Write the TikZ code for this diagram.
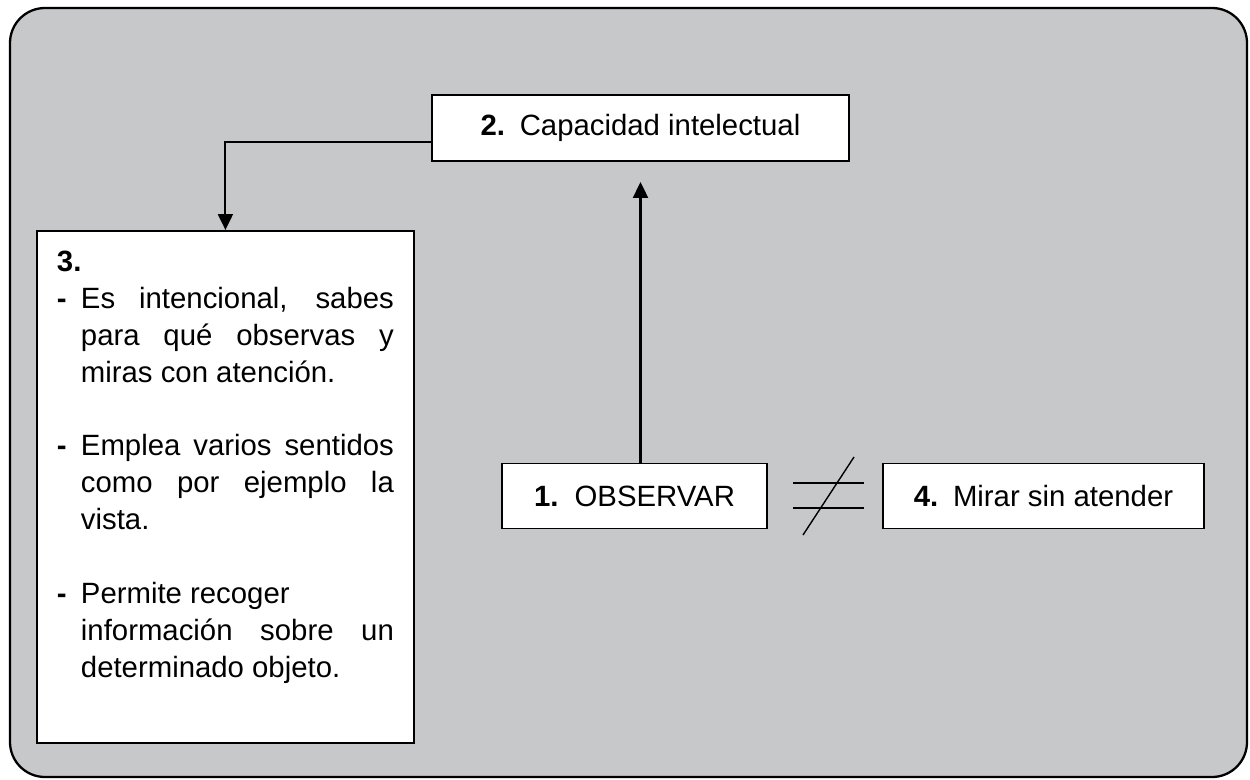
\documentclass[tikz,border=0pt]{standalone}
\usepackage{fontspec}
\setmainfont{Liberation Sans}
\usetikzlibrary{arrows.meta, positioning}
\definecolor{fondo}{HTML}{C7C8CA}

\tikzset{
  caja/.style={draw, line width=1.1pt, fill=white, inner sep=0pt},
  titulo/.style={font=\fontsize{16.7}{20}\selectfont},
  flecha/.style={line width=1.2pt, -{Triangle[length=0.32cm, width=0.3cm]}},
  linea/.style={line width=0.8pt}
}
\newcommand{\guion}{\makebox[0.48cm][l]{\textbf{-}}}

\begin{document}
\begin{tikzpicture}[x=0.02cm, y=-0.02cm]
  \useasboundingbox (0,0) rectangle (1250,780);

  % Fondo gris redondeado
  \draw[line width=1.3pt, fill=fondo, rounded corners=0.7cm] (10,8) rectangle (1247,777);

  % Cajas
  \node[caja, titulo, minimum width=8.34cm, minimum height=1.32cm] (obs2) at (640.5,128)
    {\textbf{2.}\hspace{0.5em}Capacidad intelectual};
  \node[caja, titulo, minimum width=5.3cm, minimum height=1.3cm] (obs1) at (634.5,496)
    {\textbf{1.}\hspace{0.55em}OBSERVAR};
  \node[caja, titulo, minimum width=6.42cm, minimum height=1.3cm] (obs4) at (1043.5,496)
    {\textbf{4.}\hspace{0.5em}Mirar sin atender};

  \node[caja, inner sep=0.4cm, anchor=north west] (obs3) at (36,230)
    {\parbox[t][9.45cm][t]{6.74cm}{\fontsize{16.7}{21}\selectfont
      \textbf{3.}\par
      \hangindent=0.48cm\hangafter=1\noindent\guion Es intencional, sabes\linebreak
      para qu\'e observas y\linebreak miras con atenci\'on.\par
      \vspace{\baselineskip}
      \hangindent=0.48cm\hangafter=1\noindent\guion Emplea varios sentidos\linebreak
      como por ejemplo la\linebreak vista.\par
      \vspace{\baselineskip}
      \hangindent=0.48cm\hangafter=1\noindent\guion Permite recoger\newline
      informaci\'on sobre un\linebreak determinado objeto.\par}};

  % Conectores
  \draw[flecha, shorten >=0.4cm] (obs1.north -| obs2.south) -- (obs2.south);
  \draw[flecha] ([yshift=-0.28cm]obs2.west) -| (obs3.north);

  % Signo distinto
  \draw[linea] (793,483) -- (864,483);
  \draw[linea] (793,508) -- (864,508);
  \draw[linea] (854,457) -- (803,535);
\end{tikzpicture}
\end{document}
